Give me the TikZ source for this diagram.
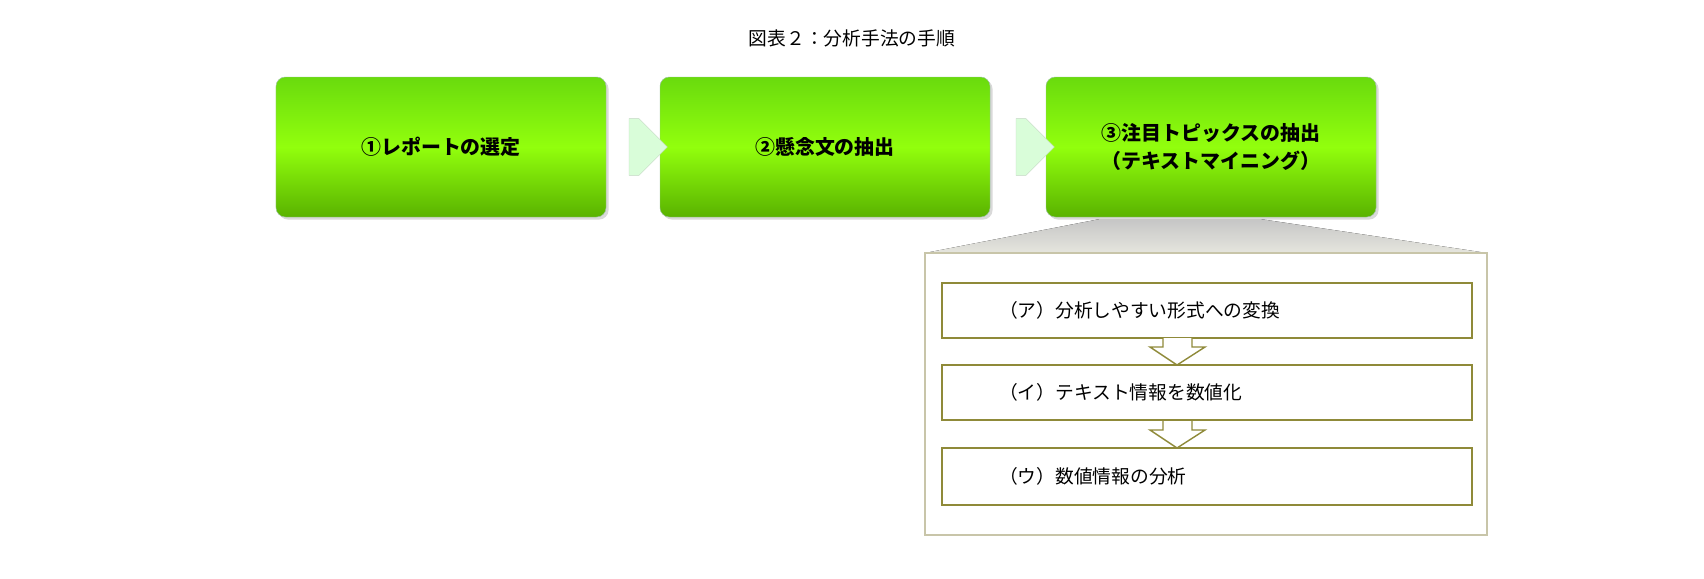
\documentclass[tikz,border=0pt]{standalone}
\usepackage{fontspec}
\newfontfamily\jp{Noto Sans CJK JP}
\usetikzlibrary{shapes.arrows,shadows}
\begin{document}
\begin{tikzpicture}[x=0.03cm,y=-0.03cm,
 gbox/.style={draw=green!40!black!40,rounded corners=8pt,top color=green!55!yellow!85!black!95,bottom color=green!50!yellow!70!black,middle color=green!45!yellow!95,align=center,font=\jp\bfseries\fontsize{17}{24}\selectfont,drop shadow={opacity=0.3}},
 rarrow/.style={single arrow,fill=green!40!black!10!green!15!white,draw=green!20!gray!40,minimum height=1.15cm,minimum width=1.7cm,single arrow head extend=0pt,inner sep=0pt},
 wbox/.style={draw=olive!60!gray,line width=1.2pt,fill=white,font=\jp\fontsize{16}{20}\selectfont,anchor=west,text width=15.2cm,inner sep=0pt},
 darrow/.style={draw=olive!60!gray,line width=1.2pt,fill=white}]
\useasboundingbox (0,0) rectangle (1704,578);
\node[font=\jp\fontsize{16}{20}\selectfont] (title) at (852,38) {図表２：分析手法の手順};
\node[gbox,minimum width=9.9cm,minimum height=4.2cm] (b1) at (441,147) {①レポートの選定};
\node[gbox,minimum width=9.9cm,minimum height=4.2cm] (b2) at (825,147) {②懸念文の抽出};
\node[gbox,minimum width=9.9cm,minimum height=4.2cm] (b3) at (1211,147) {③注目トピックスの抽出\\（テキストマイニング）};
\node[rarrow] (a1) at (634,147) {};
\node[rarrow] (a2) at (1021,147) {};
\fill[top color=gray!45,bottom color=olive!15!gray!20] (1100,219) -- (1260,219) -- (1487,253) -- (925,253) -- cycle;
\draw[draw=olive!30!gray!50,line width=1.5pt,fill=white] (925,253) rectangle (1487,535);
\coordinate (p) at (1206,253);
\draw[wbox] (942,283) rectangle (1472,338);
\draw[wbox] (942,365) rectangle (1472,420);
\draw[wbox] (942,448) rectangle (1472,505);
\node[font=\jp\fontsize{16}{20}\selectfont,anchor=west] (t1) at (995,310) {（ア）分析しやすい形式への変換};
\node[font=\jp\fontsize{16}{20}\selectfont,anchor=west] (t2) at (995,392) {（イ）テキスト情報を数値化};
\node[font=\jp\fontsize{16}{20}\selectfont,anchor=west] (t3) at (995,476) {（ウ）数値情報の分析};
\foreach \y in {338,421}{
\draw[darrow] (1163,\y) -- (1163,\y+9) -- (1150,\y+9) -- (1177,\y+27) -- (1205,\y+9) -- (1192,\y+9) -- (1192,\y);
}
\end{tikzpicture}
\end{document}
